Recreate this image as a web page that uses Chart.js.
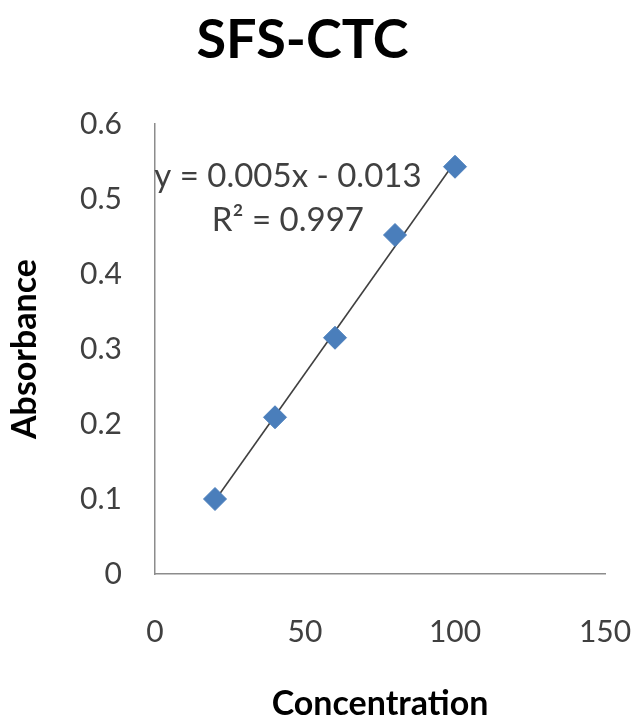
<!DOCTYPE html>
<html>
<head>
<meta charset="utf-8">
<title>SFS-CTC</title>
<script src="https://cdn.jsdelivr.net/npm/chart.js"></script>
<style>
  html, body { margin: 0; padding: 0; background: #ffffff; }
  #wrap { width: 639px; height: 721px; position: relative; }
</style>
</head>
<body>
<div id="wrap"><canvas id="sfsChart"></canvas></div>
<script>
// --- data ---
const concentration = [20, 40, 60, 80, 100];
const absorbance = [0.1, 0.209, 0.315, 0.452, 0.543];
const xTicks = [0, 50, 100, 150];
const yTicks = [0, 0.1, 0.2, 0.3, 0.4, 0.5, 0.6];
const equationLines = ["y = 0.005x - 0.013", "R\u00b2 = 0.997"];

// least squares trendline through the measured points
const n = concentration.length;
const mx = concentration.reduce((a, b) => a + b, 0) / n;
const my = absorbance.reduce((a, b) => a + b, 0) / n;
let sxy = 0, sxx = 0;
for (let i = 0; i < n; i++) {
  sxy += (concentration[i] - mx) * (absorbance[i] - my);
  sxx += (concentration[i] - mx) * (concentration[i] - mx);
}
const slope = sxy / sxx;
const intercept = my - slope * mx;
const xMin = Math.min(...concentration);
const xMax = Math.max(...concentration);

const points = concentration.map((x, i) => ({ x: x, y: absorbance[i] }));
const trend = [
  { x: xMin, y: slope * xMin + intercept },
  { x: xMax, y: slope * xMax + intercept },
];

// draws the equation / R² text next to the trendline
const equationLabel = {
  id: "equationLabel",
  afterDatasetsDraw(chart) {
    const ctx = chart.ctx;
    const xs = chart.scales.x;
    const ys = chart.scales.y;
    const cx = xs.getPixelForValue(44.3);
    ctx.save();
    ctx.font = "33px Lato";
    ctx.fillStyle = "#404040";
    ctx.textAlign = "center";
    ctx.textBaseline = "middle";
    ctx.fillText(equationLines[0], cx, ys.getPixelForValue(0.53));
    ctx.fillText(equationLines[1], cx, ys.getPixelForValue(0.472));
    ctx.restore();
  },
};

const ctx = document.getElementById("sfsChart");

new Chart(ctx, {
  type: "scatter",
  data: {
    datasets: [
      {
        label: "Trendline",
        data: trend,
        type: "line",
        showLine: true,
        borderColor: "#404040",
        borderWidth: 1.6,
        pointRadius: 0,
        fill: false,
        order: 2,
      },
      {
        label: "Absorbance",
        data: points,
        pointStyle: "rectRot",
        pointRadius: 11.5,
        pointHoverRadius: 11.5,
        backgroundColor: "#4a7ebb",
        borderColor: "#4a7ebb",
        borderWidth: 1,
        order: 1,
      },
    ],
  },
  options: {
    responsive: true,
    maintainAspectRatio: false,
    animation: false,
    layout: { padding: { left: 0, right: 34, top: 0, bottom: 0 } },
    plugins: {
      legend: { display: false },
      tooltip: { enabled: false },
      title: {
        display: true,
        text: "SFS-CTC",
        color: "#000000",
        font: { family: "Lato", size: 54, weight: "bold", lineHeight: 1.2 },
        padding: { top: 8, bottom: 51.2 },
      },
    },
    scales: {
      x: {
        type: "linear",
        min: 0,
        max: 150,
        afterBuildTicks: (scale) => {
          scale.ticks = xTicks.map((v) => ({ value: v }));
        },
        afterFit: (scale) => {
          scale.height = 147;
          scale.paddingLeft = 0;
          scale.paddingRight = 0;
        },
        grid: { display: false, drawTicks: false },
        border: { display: true, color: "#8c8c8c", width: 1.5 },
        ticks: {
          padding: 40,
          color: "#404040",
          font: { family: "Lato", size: 30 },
        },
        title: {
          display: true,
          text: "Concentration",
          color: "#000000",
          font: { family: "Lato", size: 34, weight: "bold", lineHeight: 1.0 },
          padding: { top: 0, bottom: 0 },
        },
      },
      y: {
        type: "linear",
        min: 0,
        max: 0.6,
        afterBuildTicks: (scale) => {
          scale.ticks = yTicks.map((v) => ({ value: v }));
        },
        afterFit: (scale) => {
          scale.width = 155;
          scale.paddingTop = 0;
          scale.paddingBottom = 0;
        },
        grid: { display: false, drawTicks: false },
        border: { display: true, color: "#8c8c8c", width: 1.5 },
        ticks: {
          padding: 33,
          color: "#404040",
          font: { family: "Lato", size: 30 },
          callback: (v) => String(Math.round(v * 10) / 10),
        },
        title: {
          display: true,
          text: "Absorbance",
          color: "#000000",
          font: { family: "Lato", size: 34, weight: "bold", lineHeight: 1.2 },
          padding: { top: 5, bottom: 0 },
        },
      },
    },
  },
  plugins: [equationLabel],
});
</script>
</body>
</html>
